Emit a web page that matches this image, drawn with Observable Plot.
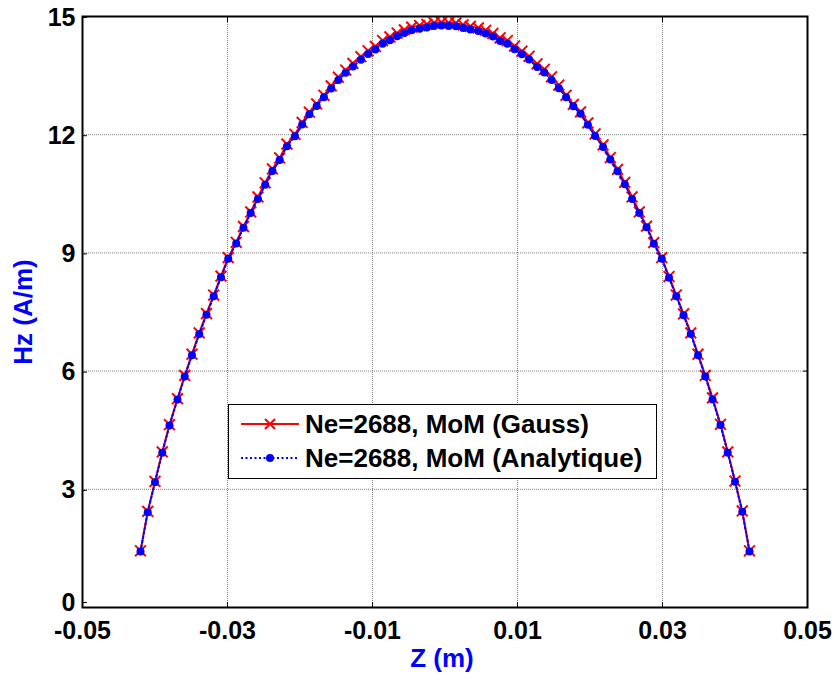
<!DOCTYPE html>
<html>
<head>
<meta charset="utf-8">
<script src="https://cdn.jsdelivr.net/npm/d3@7"></script>
<script src="https://cdn.jsdelivr.net/npm/@observablehq/plot@0.6"></script>
<style>
  html, body { margin: 0; padding: 0; background: #fff; }
  #wrap { position: relative; width: 834px; height: 675px; font-family: "Liberation Sans", Arial, sans-serif; font-weight: bold; }
  .lbl { position: absolute; color: #0000ff; font-size: 26px; font-weight: bold; white-space: nowrap; }
  #legend { position: absolute; left: 228px; top: 404px; width: 427px; height: 73px; border: 1.5px solid #000; background: #fff; }
  .row { position: absolute; left: 0; height: 30px; display: flex; align-items: center; }
  .row span { font-size: 26px; font-weight: bold; color: #000; margin-left: 0; }
</style>
</head>
<body>
<div id="wrap"></div>
<script>
// Z positions (m)
const z = [
  -0.0420, -0.0410, -0.0400, -0.0390, -0.0380, -0.0369, -0.0359, -0.0349, -0.0339, -0.0329,
  -0.0319, -0.0309, -0.0299, -0.0288, -0.0278, -0.0268, -0.0258, -0.0248, -0.0238, -0.0228,
  -0.0218, -0.0207, -0.0197, -0.0187, -0.0177, -0.0167, -0.0157, -0.0147, -0.0137, -0.0127,
  -0.0116, -0.0106, -0.0096, -0.0086, -0.0076, -0.0066, -0.0056, -0.0046, -0.0035, -0.0025,
  -0.0015, -0.0005,
  0.0005, 0.0015, 0.0025, 0.0035, 0.0046, 0.0056, 0.0066, 0.0076, 0.0086, 0.0096,
  0.0106, 0.0116, 0.0127, 0.0137, 0.0147, 0.0157, 0.0167, 0.0177, 0.0187, 0.0197,
  0.0207, 0.0218, 0.0228, 0.0238, 0.0248, 0.0258, 0.0268, 0.0278, 0.0288, 0.0299,
  0.0309, 0.0319, 0.0329, 0.0339, 0.0349, 0.0359, 0.0369, 0.0380, 0.0390, 0.0400,
  0.0410, 0.0420
];
// Hz, MoM (Gauss)
const hzGauss = [
  1.44, 2.44, 3.20, 3.95, 4.64, 5.30, 5.89, 6.43, 6.97, 7.46,
  7.93, 8.41, 8.88, 9.27, 9.67, 10.04, 10.42, 10.78, 11.13, 11.41,
  11.76, 12.01, 12.31, 12.57, 12.78, 13.00, 13.24, 13.46, 13.64, 13.81,
  13.98, 14.13, 14.24, 14.39, 14.48, 14.58, 14.66, 14.73, 14.77, 14.80,
  14.84, 14.85,
  14.84, 14.83, 14.79, 14.75, 14.71, 14.65, 14.57, 14.46, 14.39, 14.25,
  14.12, 13.99, 13.80, 13.66, 13.47, 13.26, 13.00, 12.77, 12.58, 12.30,
  12.02, 11.74, 11.42, 11.12, 10.79, 10.42, 10.04, 9.68, 9.26, 8.88,
  8.40, 7.93, 7.45, 6.97, 6.43, 5.89, 5.32, 4.65, 3.95, 3.21,
  2.45, 1.44
];
// Hz, MoM (Analytique)
const hzAnalytique = [
  1.42, 2.42, 3.18, 3.93, 4.62, 5.28, 5.86, 6.40, 6.94, 7.43,
  7.90, 8.38, 8.85, 9.24, 9.64, 10.01, 10.37, 10.73, 11.08, 11.36,
  11.71, 11.96, 12.26, 12.52, 12.73, 12.95, 13.17, 13.39, 13.57, 13.73,
  13.90, 14.05, 14.16, 14.31, 14.40, 14.50, 14.58, 14.65, 14.69, 14.72,
  14.76, 14.77,
  14.76, 14.75, 14.71, 14.67, 14.63, 14.57, 14.49, 14.38, 14.31, 14.17,
  14.04, 13.91, 13.72, 13.58, 13.39, 13.18, 12.95, 12.72, 12.53, 12.25,
  11.97, 11.69, 11.37, 11.07, 10.74, 10.37, 10.01, 9.65, 9.23, 8.85,
  8.37, 7.90, 7.42, 6.94, 6.40, 5.86, 5.28, 4.63, 3.93, 3.19,
  2.43, 1.42
];
const xTicks = [-0.05, -0.03, -0.01, 0.01, 0.03, 0.05];
const yTicks = [0, 3, 6, 9, 12, 15];
const xGrid = [-0.03, -0.01, 0.01, 0.03];
const yGrid = [3, 6, 9, 12];
const seriesNames = ["Ne=2688, MoM (Gauss)", "Ne=2688, MoM (Analytique)"];
const xLabel = "Z (m)";
const yLabel = "Hz (A/m)";

const gauss = z.map((v, i) => ({z: v, hz: hzGauss[i]}));
const anal = z.map((v, i) => ({z: v, hz: hzAnalytique[i]}));

const chart = Plot.plot({
  width: 834,
  height: 675,
  marginLeft: 82,
  marginRight: 27,
  marginTop: 16,
  marginBottom: 68,
  style: {fontFamily: "'Liberation Sans', Arial, sans-serif", fontSize: "25px", fontWeight: "bold", background: "#fff", color: "#000"},
  x: {domain: [-0.05, 0.05]},
  y: {domain: [0, 15]},
  marks: [
    Plot.gridX(xGrid, {stroke: "#7f7f7f", strokeOpacity: 1, strokeWidth: 1, strokeDasharray: "1,1"}),
    Plot.gridY(yGrid, {stroke: "#7f7f7f", strokeOpacity: 1, strokeWidth: 1, strokeDasharray: "1,1"}),
    Plot.axisX(xTicks, {anchor: "bottom", tickSize: -5, tickPadding: 19, tickFormat: d => d.toFixed(2), label: null, stroke: "#000"}),
    Plot.axisX(xTicks, {anchor: "top", tickSize: -5, tickFormat: () => "", label: null, stroke: "#000"}),
    Plot.axisY(yTicks.filter(d => d > 0), {anchor: "left", tickSize: -5, tickPadding: 12, dy: 1, tickFormat: d => String(d), label: null, stroke: "#000"}),
    Plot.axisY(yTicks.filter(d => d === 0), {anchor: "left", tickSize: -5, tickPadding: 12, dy: -5, tickFormat: d => String(d), label: null, stroke: "#000"}),
    Plot.axisY(yTicks, {anchor: "right", tickSize: -5, tickFormat: () => "", label: null, stroke: "#000"}),
    Plot.line(gauss, {x: "z", y: "hz", stroke: "#ff0000", strokeWidth: 2}),
    Plot.dot(gauss, {x: "z", y: "hz", symbol: "times", r: 5, stroke: "#ff0000", strokeWidth: 2}),
    Plot.line(anal, {x: "z", y: "hz", stroke: "#0000ff", strokeWidth: 2, strokeDasharray: "2,2.5"}),
    Plot.dot(anal, {x: "z", y: "hz", r: 4, fill: "#0000ff", stroke: "none"}),
    Plot.frame({stroke: "#000", strokeWidth: 2})
  ]
});

const wrap = document.getElementById("wrap");
wrap.appendChild(chart);

const xl = document.createElement("div");
xl.className = "lbl";
xl.textContent = xLabel;
xl.style.left = "442px";
xl.style.top = "658px";
xl.style.transform = "translate(-50%, -50%)";
wrap.appendChild(xl);

const yl = document.createElement("div");
yl.className = "lbl";
yl.textContent = yLabel;
yl.style.left = "23px";
yl.style.top = "312px";
yl.style.transform = "translate(-50%, -50%) rotate(-90deg)";
wrap.appendChild(yl);

const lg = document.createElement("div");
lg.id = "legend";
const swatches = [
  `<svg width="76" height="30"><line x1="12" y1="15" x2="70" y2="15" stroke="#ff0000" stroke-width="2"/><path d="M36,10L46,20M46,10L36,20" stroke="#ff0000" stroke-width="2"/></svg>`,
  `<svg width="76" height="30"><line x1="12" y1="15" x2="70" y2="15" stroke="#0000ff" stroke-width="2" stroke-dasharray="2,2.5"/><circle cx="41" cy="15" r="4" fill="#0000ff"/></svg>`
];
seriesNames.forEach((name, i) => {
  const row = document.createElement("div");
  row.className = "row";
  row.style.top = (i === 0 ? 4 : 38) + "px";
  row.innerHTML = swatches[i] + `<span>${name}</span>`;
  lg.appendChild(row);
});
wrap.appendChild(lg);
</script>
</body>
</html>
